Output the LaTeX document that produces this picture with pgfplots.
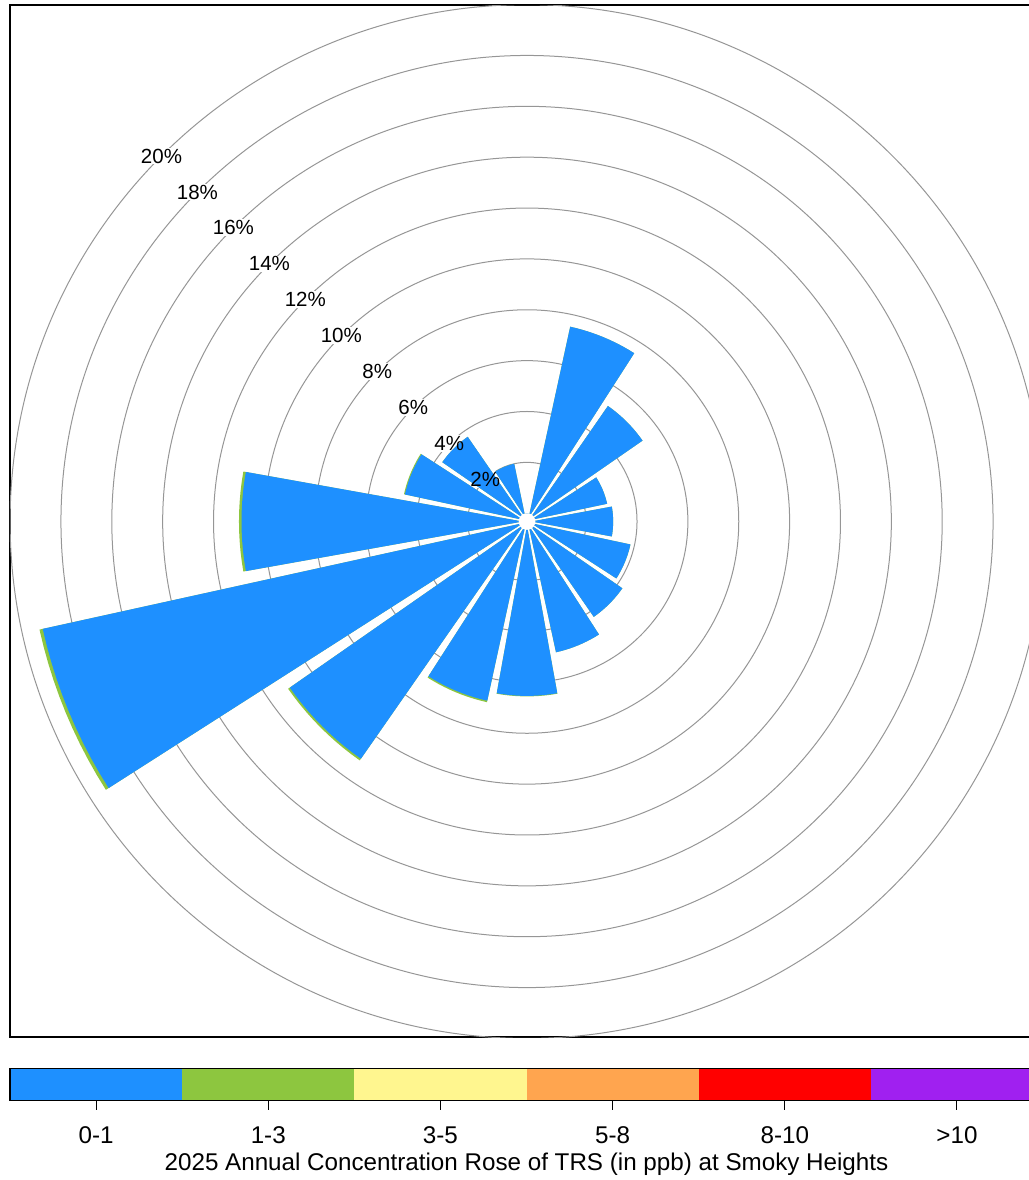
\documentclass[border=0pt]{standalone}
\usepackage{fontspec}
\setmainfont{Liberation Sans}
\usepackage{pgfplots}
\usepackage{pgfplotstable}
\pgfplotsset{compat=1.18}
\usepgfplotslibrary{polar}

\definecolor{c01}{RGB}{30,144,255}
\definecolor{c13}{RGB}{141,198,63}
\definecolor{c35}{RGB}{255,246,143}
\definecolor{c58}{RGB}{255,165,79}
\definecolor{c810}{RGB}{255,0,0}
\definecolor{c10}{RGB}{160,32,240}
\definecolor{ringgray}{RGB}{150,150,150}

% direction (deg from N, clockwise), % of time in 0-1 ppb, % in 1-3 ppb
\pgfplotstableread{
dir    c01    c13
0      0.00   0.00
22.5   7.52   0.00
45     5.22   0.00
67.5   2.90   0.00
90     3.06   0.00
112.5  3.84   0.00
135    4.25   0.00
157.5  4.94   0.00
180    6.53   0.02
202.5  6.89   0.06
225    11.06  0.08
247.5  19.18  0.13
270    10.90  0.10
292.5  4.59   0.04
315    3.74   0.00
337.5  2.00   0.00
}\rosedata

% outline of one wedge: angular offset t, k=0 apex / k=1 outer arc
\pgfplotstableread{
t    k
0    0
-10  1
-8   1
-6   1
-4   1
-2   1
0    1
2    1
4    1
6    1
8    1
10   1
}\wedgeshape

\def\rzero{0.3264}
\def\rapex{0.17}

\begin{document}
\begin{tikzpicture}
\path[use as bounding box, clip] (0pt,0pt) rectangle (514.5pt,-590pt);
\begin{axis}[
  at={(5pt,-518.5pt)}, anchor=south west,
  scale only axis, width=516.5pt, height=516pt,
  xmin=-20.33, xmax=20.29, ymin=-20.27, ymax=20.31,
  xtick=\empty, ytick=\empty,
  axis line style={line width=0.8pt, black},
]
\pgfplotsinvokeforeach{2,4,...,20}{
  \draw[ringgray, line width=0.5pt] (axis cs:0,0) circle[radius={#1+\rzero}];
}
% white patches behind the ring labels (under the wedges)
\pgfplotsinvokeforeach{2,4,...,20}{
  \node[fill=white, text=white, inner sep=0.6pt, font=\fontsize{10.25}{11}\selectfont]
    at (axis cs:{-(#1+\rzero)*0.70711},{(#1+\rzero)*0.70711}) {#1\%};
}
\pgfplotstablegetrowsof{\rosedata}
\pgfmathtruncatemacro\lastrow{\pgfplotsretval-1}
\pgfplotsforeachungrouped \i in {0,...,\lastrow}{%
  \pgfplotstablegetelem{\i}{dir}\of\rosedata \let\rdir=\pgfplotsretval
  \pgfplotstablegetelem{\i}{c01}\of\rosedata \let\rblue=\pgfplotsretval
  \pgfplotstablegetelem{\i}{c13}\of\rosedata \let\rgreen=\pgfplotsretval
  \pgfmathsetmacro\ang{90-\rdir}%
  \pgfmathsetmacro\rtot{\rblue+\rgreen+\rzero}%
  \pgfmathsetmacro\rb{\rblue+\rzero}%
  \edef\cmd{%
    \noexpand\addplot[fill=c13, draw=none, data cs=polar]
      table[x expr={\ang+\noexpand\thisrow{t}}, y expr={\noexpand\thisrow{k}*\rtot+(1-\noexpand\thisrow{k})*\rapex}] {\noexpand\wedgeshape};
    \noexpand\addplot[fill=c01, draw=none, data cs=polar]
      table[x expr={\ang+\noexpand\thisrow{t}}, y expr={\noexpand\thisrow{k}*\rb+(1-\noexpand\thisrow{k})*\rapex}] {\noexpand\wedgeshape};
  }%
  \cmd
}
\fill[white] (axis cs:0,0) circle[radius=\rzero];
\pgfplotsinvokeforeach{2,4,...,20}{
  \node[inner sep=0.6pt, font=\fontsize{10.25}{11}\selectfont]
    at (axis cs:{-(#1+\rzero)*0.70711},{(#1+\rzero)*0.70711}) {#1\%};
}
\end{axis}
\begin{scope}[x=0.5pt,y=-0.5pt]
\foreach \c/\lab [count=\n from 0] in {c01/0-1, c13/1-3, c35/3-5, c58/5-8, c810/8-10, c10/>10}{
  \fill[\c] ({10+\n*172.17},1068.3) rectangle ({10+(\n+1)*172.17},1100.7);
  \draw[line width=0.5pt] ({10+(\n+0.5)*172.17},1100.7) -- ++(0,9.3);
  \node[anchor=base, inner sep=0pt, font=\fontsize{12.1}{14}\selectfont] at ({10+(\n+0.5)*172.17},1143.6) {\lab};
}
\draw[line width=0.75pt] (10,1068.3) rectangle (1043,1100.7);
\node[anchor=base, inner sep=0pt, font=\fontsize{12.1}{14}\selectfont] at (526.5,1170.6) {2025 Annual Concentration Rose of TRS (in ppb) at Smoky Heights};
\end{scope}
\end{tikzpicture}
\end{document}
